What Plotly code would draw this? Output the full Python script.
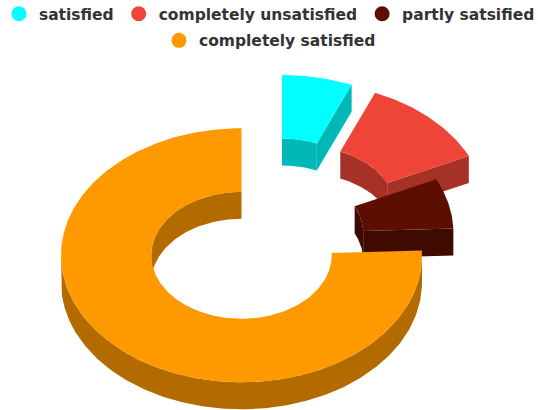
import numpy as np
import plotly.graph_objects as go

categories = ["satisfied", "completely unsatisfied", "partly satsified", "completely satisfied"]
values = [6.3, 11.7, 6.4, 75.6]
top_colors = ["#00FFFF", "#EE4538", "#5C0F00", "#FF9900"]
side_colors = ["#00B8B8", "#A53127", "#3F0A00", "#B36B00"]
centers_x = [282, 305.5, 273, 241.5]
centers_y = [202, 210, 233.4, 255.3]
legend_rows = ["legend", "legend", "legend", "legend2"]

RX, RY, HOLE, DEPTH = 180.5, 127, 0.5, 27


def pt(cx, cy, rx, ry, t):
    return cx + rx * np.sin(t), cy - ry * np.cos(t)


def arc(t1, t2):
    n = max(2, int(abs(t2 - t1) * 60))
    return np.linspace(t1, t2, n)


def top_face(cx, cy, t1, t2):
    t = arc(t1, t2)
    xo, yo = pt(cx, cy, RX, RY, t)
    xi, yi = pt(cx, cy, RX * HOLE, RY * HOLE, t[::-1])
    return np.r_[xo, xi, xo[0]], np.r_[yo, yi, yo[0]]


def wall(cx, cy, k, t1, t2):
    t = arc(t1, t2)
    x, y = pt(cx, cy, RX * k, RY * k, t)
    return np.r_[x, x[::-1], x[0]], np.r_[y, (y + DEPTH)[::-1], y[0]]


def cut(cx, cy, t):
    xa, ya = pt(cx, cy, RX * HOLE, RY * HOLE, t)
    xb, yb = pt(cx, cy, RX, RY, t)
    return [xa, xb, xb, xa, xa], [ya, yb, yb + DEPTH, ya + DEPTH, ya]


def overlap(a1, a2, b1, b2):
    lo, hi = max(a1, b1), min(a2, b2)
    return (lo, hi) if hi > lo else None


fig = go.Figure()


def poly(xy, color):
    fig.add_trace(go.Scatter(x=xy[0], y=xy[1], mode="lines", fill="toself", fillcolor=color,
                             line=dict(width=0, color=color), hoverinfo="skip", showlegend=False))


total = sum(values)
start = 0.0
for name, v, c, s, cx, cy in zip(categories, values, top_colors, side_colors, centers_x, centers_y):
    t1 = start / total * 2 * np.pi
    t2 = (start + v) / total * 2 * np.pi
    start += v
    for lo, hi in [(-np.pi / 2, np.pi / 2), (1.5 * np.pi, 2.5 * np.pi)]:
        o = overlap(t1, t2, lo, hi)
        if o:
            poly(wall(cx, cy, HOLE, *o), s)
    o = overlap(t1, t2, np.pi / 2, 1.5 * np.pi)
    if o:
        poly(wall(cx, cy, 1, *o), s)
    if t2 < np.pi:
        poly(cut(cx, cy, t2), s)
    if t1 > np.pi:
        poly(cut(cx, cy, t1), s)
    poly(top_face(cx, cy, t1, t2), c)

for name, c, row in zip(categories, top_colors, legend_rows):
    fig.add_trace(go.Scatter(x=[None], y=[None], mode="markers", name=name, legend=row,
                             marker=dict(color=c, size=15, symbol="circle")))

legend_font = dict(family="DejaVu Sans", size=15.5, color="#333333", weight="bold")
fig.update_layout(
    width=538, height=410, margin=dict(l=0, r=0, t=0, b=0, autoexpand=False),
    paper_bgcolor="white", plot_bgcolor="white",
    xaxis=dict(range=[0, 538], visible=False, fixedrange=True),
    yaxis=dict(range=[410, 0], visible=False, fixedrange=True),
    legend=dict(orientation="h", x=-0.002, xanchor="left", y=1.007, yanchor="top",
                font=legend_font, itemsizing="trace", bgcolor="rgba(0,0,0,0)"),
    legend2=dict(orientation="h", x=0.2955, xanchor="left", y=0.942, yanchor="top",
                 font=legend_font, itemsizing="trace", bgcolor="rgba(0,0,0,0)"),
)
fig.write_html("out.html", post_script="document.body.style.margin='0';",
               config=dict(displayModeBar=False))
